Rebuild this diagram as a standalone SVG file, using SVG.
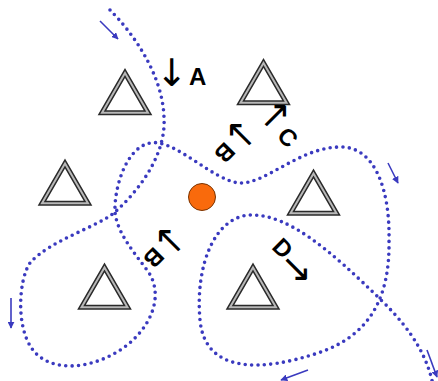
<svg xmlns="http://www.w3.org/2000/svg" xmlns:xlink="http://www.w3.org/1999/xlink" width="438" height="381" viewBox="0 0 438 381">
<style>
.tri-o{fill:none;stroke:#2a2a2a;stroke-width:5;stroke-linejoin:miter}
.tri-i{fill:none;stroke:#b8b8b8;stroke-width:2;stroke-linejoin:miter}
.dots{fill:none;stroke:#3a3abf;stroke-width:3.6;stroke-linecap:round;stroke-dasharray:0 6.4}
.flow{fill:none;stroke:#3a3abf;stroke-width:1.6}
.lbl{font-family:"Liberation Sans",Arial,sans-serif;font-weight:bold;font-size:24px;fill:#000}
.arw{font-family:"DejaVu Sans",sans-serif;font-weight:normal;font-size:38px;fill:#000}
</style>
<defs>
<marker id="ah" viewBox="0 0 10 10" refX="9" refY="5" markerWidth="7" markerHeight="7" markerUnits="userSpaceOnUse" orient="auto">
<path d="M0,0 L10,5 L0,10 z" fill="#3a3abf"/>
</marker>
<g id="tri">
<polygon class="tri-o" points="0,-26.5 23,13.3 -23,13.3"/>
<polygon class="tri-i" points="0,-26.5 23,13.3 -23,13.3"/>
</g>
</defs>
<rect width="438" height="381" fill="#fff"/>

<g id="connectors">
<path class="dots" d="M110,10 C133,33 163,75 164,118 C166,150 145,185 115,212 C100,226 50,240 30,263 C18,280 14,338 40,357 C66,376 110,362 133,340 C156,318 162,290 147,270 C132,250 117,232 115,212 C114,190 125,148 150,143 C175,138 215,183 241,183 C267,183 300,147 341,147 C375,147 390,190 389,240 C390,295 372,335 318,353 C264,371 205,375 200,320 C195,265 215,215 252,215 C289,215 330,250 381,300 C415,333 428,360 433,385"/>
<path class="flow" d="M100,21 L118,39" marker-end="url(#ah)"/>
<path class="flow" d="M388,163 L398,183" marker-end="url(#ah)"/>
<path class="flow" d="M11,298 L11,328" marker-end="url(#ah)"/>
<path class="flow" d="M308,370 L281,380" marker-end="url(#ah)"/>
<path class="flow" d="M427,350 L437,377" marker-end="url(#ah)"/>
</g>

<g id="t1"><use xlink:href="#tri" transform="translate(125,99.5)"/></g>
<g id="t2"><use xlink:href="#tri" transform="translate(263.5,89.5)"/></g>
<g id="t3"><use xlink:href="#tri" transform="translate(65,190)"/></g>
<g id="t4"><use xlink:href="#tri" transform="translate(313.5,200)"/></g>
<g id="t5"><use xlink:href="#tri" transform="translate(104.5,294)"/></g>
<g id="t6"><use xlink:href="#tri" transform="translate(253,294)"/></g>

<g id="charge"><circle cx="202" cy="197" r="13.5" fill="#f96a0c" stroke="#7a3300" stroke-width="1"/></g>

<g id="label-a">
<text class="arw" x="172" y="72.5" text-anchor="middle" dominant-baseline="central">↓</text>
<text class="lbl" x="189" y="85">A</text>
</g>
<g id="label-b1">
<text class="arw" transform="translate(241,135) rotate(-45)" text-anchor="middle" dominant-baseline="central">↑</text>
<text class="lbl" transform="translate(225,153) rotate(135)" y="8.6" text-anchor="middle">B</text>
</g>
<g id="label-c">
<text class="arw" transform="translate(275,116) rotate(45)" text-anchor="middle" dominant-baseline="central">↑</text>
<text class="lbl" transform="translate(288,137) rotate(45)" y="8.6" text-anchor="middle">C</text>
</g>
<g id="label-b2">
<text class="arw" transform="translate(170,241) rotate(-45)" text-anchor="middle" dominant-baseline="central">↑</text>
<text class="lbl" transform="translate(154,258) rotate(135)" y="8.6" text-anchor="middle">B</text>
</g>
<g id="label-d">
<text class="arw" transform="translate(297,270) rotate(-45)" text-anchor="middle" dominant-baseline="central">↓</text>
<text class="lbl" transform="translate(283,248) rotate(45)" y="8.6" text-anchor="middle">D</text>
</g>
</svg>
